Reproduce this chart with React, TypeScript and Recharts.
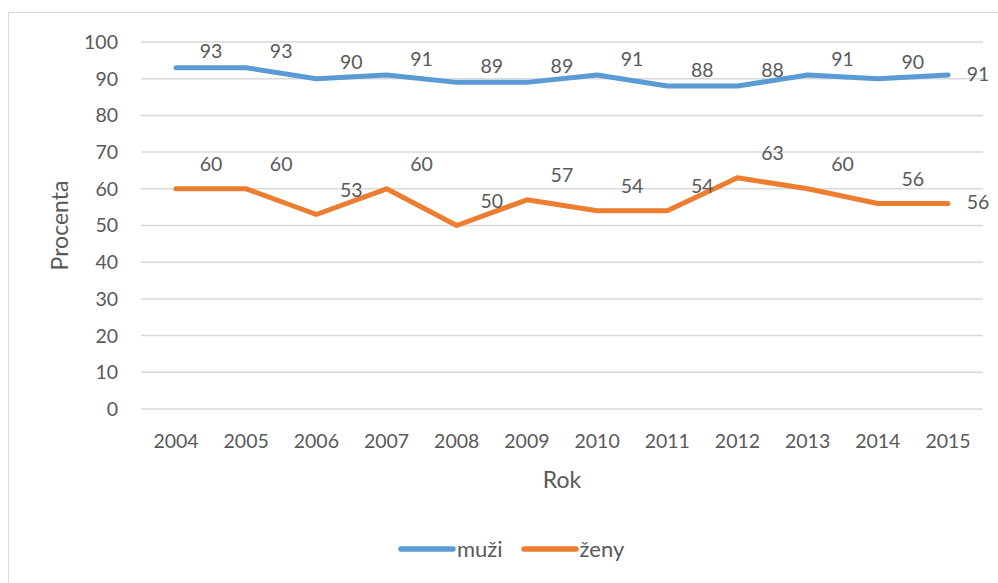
import React from "react";
import { LineChart, Line, XAxis, YAxis, CartesianGrid, LabelList } from "recharts";

const YEARS = ["2004", "2005", "2006", "2007", "2008", "2009", "2010", "2011", "2012", "2013", "2014", "2015"];
const MUZI = [93, 93, 90, 91, 89, 89, 91, 88, 88, 91, 90, 91];
const ZENY = [60, 60, 53, 60, 50, 57, 54, 54, 63, 60, 56, 56];
const Y_TICKS = [0, 10, 20, 30, 40, 50, 60, 70, 80, 90, 100];
const SERIES = [
    { key: "muzi", name: "muži", color: "#5B9BD5", lift: -17 },
    { key: "zeny", name: "ženy", color: "#ED7D31", lift: -25 },
];

const data = YEARS.map((year, i) => ({ year, muzi: MUZI[i], zeny: ZENY[i] }));

const FONT = "Lato, 'Open Sans', sans-serif";
const TEXT = "#595959";

// value labels sit to the right of each point, the last one beside it
const makeLabel = (lift: number) =>
    // eslint-disable-next-line @typescript-eslint/no-explicit-any
    (props: any) => {
        const { x, y, value, index } = props;
        const last = index === YEARS.length - 1;
        return (
            <text
                x={x + (last ? 30 : 35)}
                y={y + (last ? -2 : lift)}
                textAnchor="middle"
                dominantBaseline="central"
                fontSize={19.5}
                fontFamily={FONT}
                fill={TEXT}
            >
                {value}
            </text>
        );
    };

export default function App() {
    return (
        <div style={{ position: "absolute", left: 0, top: 0, width: 998, height: 583, background: "#fff", overflow: "hidden" }}>
            <div style={{ position: "absolute", left: 8, top: 12, width: 1100, height: 700, border: "1.5px solid #D9D9D9" }} />
            <div style={{ position: "absolute", left: 0, top: 0 }}>
                <LineChart width={998} height={583} data={data} margin={{ top: 42, right: 15, bottom: 114, left: 8 }}>
                    <CartesianGrid vertical={false} stroke="#D9D9D9" strokeWidth={1.5} />
                    <XAxis
                        dataKey="year"
                        height={60}
                        padding={{ left: 35, right: 35 }}
                        axisLine={false}
                        tickLine={false}
                        tickMargin={19}
                        tick={{ fontSize: 19.5, fill: TEXT, fontFamily: FONT }}
                        label={{ value: "Rok", position: "bottom", offset: 3, fontSize: 23, fill: TEXT, fontFamily: FONT }}
                    />
                    <YAxis
                        width={133}
                        domain={[0, 100]}
                        ticks={Y_TICKS}
                        axisLine={false}
                        tickLine={false}
                        tickMargin={17}
                        tick={{ fontSize: 19.5, fill: TEXT, fontFamily: FONT }}
                        label={{
                            // eslint-disable-next-line @typescript-eslint/no-explicit-any
                            content: ({ viewBox }: any) => {
                                const cy = viewBox.y + viewBox.height / 2;
                                return (
                                    <text x={68} y={cy} transform={`rotate(-90 68 ${cy})`} textAnchor="middle" fontSize={23} fill={TEXT} fontFamily={FONT}>
                                        Procenta
                                    </text>
                                );
                            },
                        }}
                    />
                    {SERIES.map((s) => (
                        <Line
                            key={s.key}
                            type="linear"
                            dataKey={s.key}
                            name={s.name}
                            stroke={s.color}
                            strokeWidth={5}
                            strokeLinejoin="round"
                            strokeLinecap="round"
                            dot={false}
                            activeDot={false}
                            isAnimationActive={false}
                        >
                            <LabelList dataKey={s.key} content={makeLabel(s.lift)} />
                        </Line>
                    ))}
                </LineChart>
            </div>
            <div style={{ position: "absolute", left: 398, top: 535, display: "flex", alignItems: "center", fontFamily: FONT, fontSize: 22, color: TEXT }}>
                {SERIES.map((s) => (
                    <div key={s.key} style={{ display: "flex", alignItems: "center", marginRight: 18 }}>
                        <svg width={58} height={10}>
                            <line x1={3} y1={5} x2={55} y2={5} stroke={s.color} strokeWidth={5.5} strokeLinecap="round" />
                        </svg>
                        <span style={{ marginLeft: 1 }}>{s.name}</span>
                    </div>
                ))}
            </div>
        </div>
    );
}
